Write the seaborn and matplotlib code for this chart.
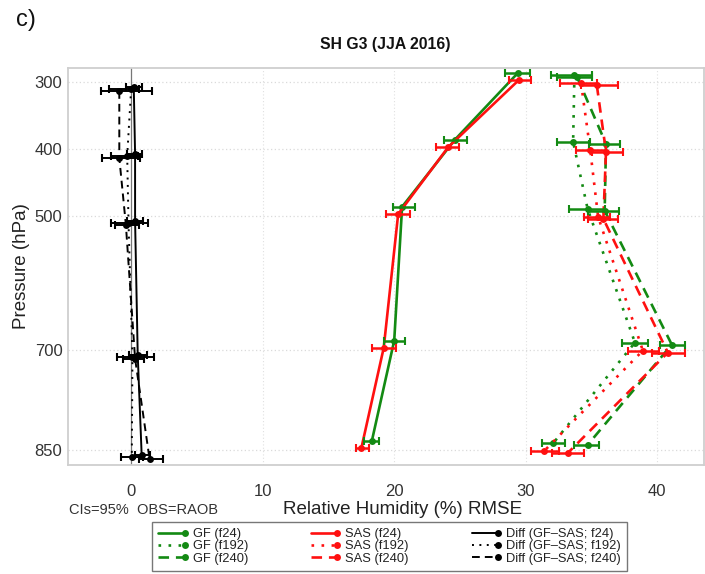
import numpy as np
import pandas as pd
import matplotlib
matplotlib.use("Agg")
import matplotlib.pyplot as plt
import seaborn as sns
from matplotlib.lines import Line2D
from matplotlib.legend_handler import HandlerLine2D

# ---------------- data ----------------
levels = [300, 400, 500, 700, 850]
x_ticks = [0, 10, 20, 30, 40]

gf_f24 = [29.4, 24.6, 20.6, 20.0, 18.3]
gf_f24_lo = [28.4, 23.8, 19.9, 19.2, 17.7]
gf_f24_hi = [30.3, 25.5, 21.6, 20.8, 18.85]
gf_f192 = [33.7, 33.6, 34.7, 38.3, 32.1]
gf_f192_lo = [31.9, 32.4, 33.3, 37.3, 31.2]
gf_f192_hi = [35.0, 34.9, 36.0, 39.3, 33.0]
gf_f240 = [33.9, 36.1, 36.0, 41.1, 34.7]
gf_f240_lo = [32.4, 34.8, 34.7, 40.2, 33.7]
gf_f240_hi = [35.0, 37.2, 37.1, 42.1, 35.6]

sas_f24 = [29.45, 24.1, 20.3, 19.2, 17.5]
sas_f24_lo = [28.7, 23.2, 19.4, 18.3, 17.1]
sas_f24_hi = [30.4, 24.9, 21.2, 20.1, 18.1]
sas_f192 = [34.2, 34.9, 35.5, 38.9, 31.4]
sas_f192_lo = [32.6, 33.8, 34.4, 37.8, 30.4]
sas_f192_hi = [35.4, 36.1, 36.4, 40.1, 32.5]
sas_f240 = [35.4, 36.1, 35.9, 40.8, 33.2]
sas_f240_lo = [34.2, 35.0, 34.7, 39.6, 32.0]
sas_f240_hi = [37.0, 37.4, 37.0, 42.1, 34.4]

diff_f24 = [0.2, 0.3, 0.3, 0.5, 0.8]
diff_f24_lo = [-0.4, -0.3, -0.3, -0.2, 0.3]
diff_f24_hi = [0.8, 0.8, 0.9, 1.2, 1.4]
diff_f192 = [0.0, -0.3, -0.2, 0.1, 0.05]
diff_f192_lo = [-1.65, -1.5, -1.55, -1.1, -0.8]
diff_f192_hi = [0.6, 0.55, 1.3, 1.75, 0.9]
diff_f240 = [-0.9, -0.9, -0.4, 0.3, 1.4]
diff_f240_lo = [-2.3, -2.2, -1.2, -0.6, 0.6]
diff_f240_hi = [1.6, 0.7, 0.6, 1.0, 2.4]

series = [
    ("GF (f24)", gf_f24, gf_f24_lo, gf_f24_hi, "green", "f24", -14),
    ("GF (f192)", gf_f192, gf_f192_lo, gf_f192_hi, "green", "f192", -11),
    ("GF (f240)", gf_f240, gf_f240_lo, gf_f240_hi, "green", "f240", -8),
    ("SAS (f24)", sas_f24, sas_f24_lo, sas_f24_hi, "red", "f24", -3),
    ("SAS (f192)", sas_f192, sas_f192_lo, sas_f192_hi, "red", "f192", 1),
    ("SAS (f240)", sas_f240, sas_f240_lo, sas_f240_hi, "red", "f240", 4),
    ("Diff (GF\u2013SAS; f24)", diff_f24, diff_f24_lo, diff_f24_hi, "diff", "f24", 7),
    ("Diff (GF\u2013SAS; f192)", diff_f192, diff_f192_lo, diff_f192_hi, "diff", "f192", 10),
    ("Diff (GF\u2013SAS; f240)", diff_f240, diff_f240_lo, diff_f240_hi, "diff", "f240", 13),
]

colors = {"green": "#138a13", "red": "#ff1010", "diff": "#000000"}
styles = {"f24": "-", "f192": (0, (1, 2.8)), "f240": (0, (4, 2.6))}

# ---------------- figure ----------------
sns.set_theme(style="white")
plt.rcParams["font.family"] = ["Liberation Sans", "DejaVu Sans"]

W, H = 705, 574
fig = plt.figure(figsize=(W / 100, H / 100), dpi=100)
ax = fig.add_axes([68 / W, 109 / H, 636 / W, 397 / H])

ax.set_xlim(-4.8, 43.55)
ax.set_ylim(872, 278.6)

for xv in x_ticks[1:]:
    ax.axvline(xv, color="#e0e0e0", lw=0.8, ls=(0, (1, 2)), zorder=0)
for p in levels:
    ax.axhline(p, color="#dadada", lw=0.9, ls=(0, (1, 2)), zorder=0)
ax.axvline(0, color="#777777", lw=0.9, zorder=1)

handles = []
for name, vals, lo, hi, col, lead, off in series:
    c = colors[col]
    ls = styles[lead]
    lw = 1.9 if col != "diff" else 1.4
    yp = np.array(levels, dtype=float) + off
    df = pd.DataFrame({"x": vals, "p": yp})
    sns.lineplot(data=df, x="x", y="p", orient="y", sort=False, estimator=None,
                 color=c, linestyle=ls, lw=lw, marker="o", markersize=5,
                 markeredgewidth=0, legend=False, ax=ax, zorder=3)
    v = np.array(vals)
    xerr = np.vstack([v - np.array(lo), np.array(hi) - v])
    ax.errorbar(v, yp, xerr=xerr, fmt="none", ecolor=c,
                elinewidth=1.8 if col != "diff" else 1.4,
                capsize=3, capthick=1.5, zorder=4)
    handles.append(Line2D([], [], color=c, linestyle=ls, lw=lw, marker="o",
                          markersize=5, markeredgewidth=0, label=name))

ax.set_xticks(x_ticks)
ax.set_yticks(levels)
ax.set_xticklabels([str(t) for t in x_ticks])
ax.set_yticklabels([str(t) for t in levels])
ax.tick_params(axis="x", length=0, pad=14, labelsize=12, labelcolor="#333333")
ax.tick_params(axis="y", length=0, pad=4, labelsize=12, labelcolor="#333333")
ax.set_xlabel("")
ax.set_ylabel("")
for s in ax.spines.values():
    s.set_color("#cfcfcf")
    s.set_linewidth(1.3)

fig.text(385 / W, 1 - 45 / H, "SH G3 (JJA 2016)", ha="center", va="center",
         fontsize=11.3, fontweight="bold", color="#111111")
fig.text(16 / W, 1 - 20 / H, "c)", ha="left", va="center", fontsize=17, color="#111111")
fig.text(22 / W, 1 - 266 / H, "Pressure (hPa)", ha="center", va="center",
         rotation=90, fontsize=13.5, color="#222222")
fig.text(403 / W, 1 - 510 / H, "Relative Humidity (%) RMSE", ha="center", va="center",
         fontsize=13.5, color="#222222")
fig.text(69 / W, 1 - 510 / H, "CIs=95%  OBS=RAOB", ha="left", va="center",
         fontsize=10.5, color="#333333")


class EndMarker(HandlerLine2D):
    def create_artists(self, legend, orig_handle, xdescent, ydescent, width,
                       height, fontsize, trans):
        arts = super().create_artists(legend, orig_handle, xdescent, ydescent,
                                      width, height, fontsize, trans)
        for a in arts:
            y = a.get_ydata()[0]
            a.set_data([-xdescent, -xdescent + width], [y, y])
            a.set_markevery([1])
        return arts


leg = fig.legend(handles=handles, ncol=3, loc="upper left",
                 bbox_to_anchor=(152 / W, 1 - 522 / H, 475 / W, 0.0001),
                 mode="expand", fontsize=9.3, frameon=True, fancybox=False,
                 handlelength=2.05, handletextpad=0.6, labelspacing=0.0,
                 borderpad=0.5, borderaxespad=0, columnspacing=1.0,
                 handler_map={Line2D: EndMarker()})
leg.get_frame().set_edgecolor("#555555")
leg.get_frame().set_linewidth(1.0)
for t in leg.get_texts():
    t.set_color("#222222")

fig.savefig("out.png", dpi=100)
